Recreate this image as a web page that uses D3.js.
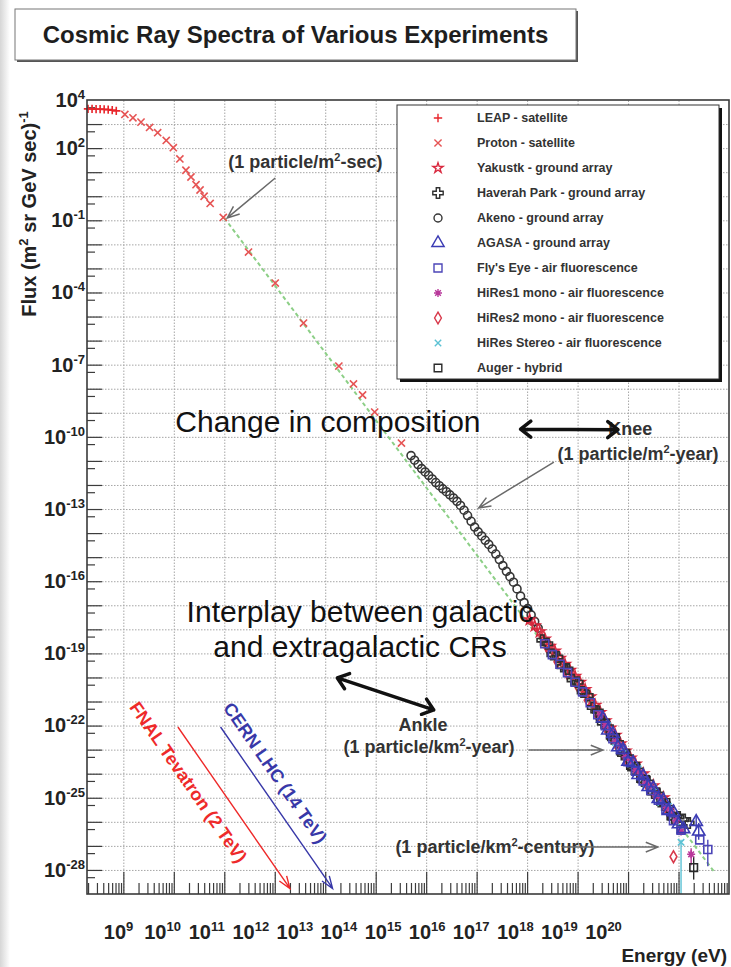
<!DOCTYPE html>
<html>
<head>
<meta charset="utf-8">
<title>Cosmic Ray Spectra of Various Experiments</title>
<script src="https://cdn.jsdelivr.net/npm/d3@7/dist/d3.min.js"></script>
<style>
  html, body { margin: 0; padding: 0; background: #fff; }
  svg { display: block; }
</style>
</head>
<body>
<svg id="chart" width="731" height="967"></svg>
<script>
// Energies are log10(E / eV); fluxes are log10(flux / (m^2 sr GeV sec)^-1).

const leapE = [8.30, 8.38, 8.46, 8.54, 8.62, 8.70, 8.78, 8.86];
const leapF = [3.63, 3.63, 3.62, 3.62, 3.61, 3.60, 3.58, 3.55];

const protonE = [9.03, 9.19, 9.35, 9.52, 9.68, 9.85, 9.99, 10.12, 10.24, 10.34, 10.44, 10.52, 10.60, 10.72, 10.98,
                 11.48, 12.01, 12.57, 13.27, 13.56, 13.74, 13.98, 14.51];
const protonF = [3.40, 3.26, 3.08, 2.86, 2.64, 2.32, 2.02, 1.55, 1.08, 0.80, 0.48, 0.26, 0.00, -0.30, -0.88,
                 -2.32, -3.61, -5.27, -7.06, -7.80, -8.26, -8.97, -10.26];

const akenoE = [14.70, 14.77, 14.84, 14.91, 14.98, 15.05, 15.12, 15.19, 15.26, 15.33, 15.40, 15.47, 15.54,
                15.61, 15.68, 15.75, 15.82, 15.89, 15.96, 16.03, 16.10, 16.17, 16.24, 16.31, 16.38, 16.45,
                16.52, 16.59, 16.66, 16.73, 16.80, 16.87, 16.94, 17.01, 17.08, 17.15, 17.22];
const akenoF = [-10.78, -10.97, -11.15, -11.32, -11.46, -11.60, -11.75, -11.90, -12.03, -12.16, -12.28, -12.41, -12.54,
                -12.68, -12.85, -13.05, -13.27, -13.51, -13.75, -13.95, -14.12, -14.30, -14.47, -14.66, -14.87, -15.10,
                -15.35, -15.59, -15.81, -16.04, -16.32, -16.62, -16.89, -17.14, -17.40, -17.67, -17.95];

const yakutskE = [17.05, 17.15, 17.25, 17.35, 17.45, 17.55, 17.65, 17.75, 17.85, 17.95, 18.05, 18.15, 18.25,
                  18.35, 18.45, 18.55, 18.65, 18.75, 18.85, 18.95, 19.05, 19.15, 19.30, 19.50, 19.70];
const yakutskF = [-17.60, -17.85, -18.10, -18.40, -18.70, -18.90, -19.20, -19.45, -19.70, -19.95, -20.20, -20.50, -20.80,
                  -21.15, -21.45, -21.80, -22.10, -22.40, -22.75, -23.05, -23.35, -23.60, -24.00, -24.50, -25.00];

const haverahE = [17.3, 17.4, 17.5, 17.6, 17.7, 17.8, 17.9, 18.0, 18.1, 18.2, 18.3, 18.4, 18.5, 18.6, 18.7,
                  18.8, 18.9, 19.0, 19.1, 19.2, 19.3, 19.4, 19.5, 19.6, 19.7, 19.8, 19.9, 20.0, 20.1, 20.2];
const haverahF = [-18.45, -18.60, -19.05, -19.15, -19.55, -19.65, -20.10, -20.20, -20.60, -20.75, -21.25, -21.40, -21.90, -22.05, -22.55,
                  -22.70, -23.20, -23.30, -23.80, -23.85, -24.30, -24.35, -24.80, -24.85, -25.30, -25.40, -25.85, -25.80, -25.90, -26.05];

const agasaE = [18.5, 18.6, 18.7, 18.8, 18.9, 19.0, 19.1, 19.2, 19.3, 19.4, 19.5, 19.6, 19.7, 19.8, 19.9, 20.0, 20.1, 20.35, 20.40];
const agasaF = [-21.70, -22.20, -22.35, -22.90, -23.00, -23.50, -23.55, -24.05, -24.10, -24.55, -24.60, -25.05, -25.10,
                -25.55, -25.60, -26.10, -26.30, -26.00, -26.40];

const flysEyeE = [17.35, 17.50, 17.65, 17.80, 17.95, 18.10, 18.25, 18.40, 18.55, 18.70, 18.85, 19.00, 19.15, 19.30,
                  19.45, 19.60, 19.75, 19.90, 20.05, 20.42, 20.58];
const flysEyeF = [-18.60, -19.05, -19.45, -19.80, -20.20, -20.60, -21.05, -21.55, -22.00, -22.55, -23.00, -23.50, -23.90, -24.30,
                  -24.70, -25.10, -25.50, -25.95, -26.35, -26.75, -27.15];

const hires1E = [18.45, 18.55, 18.65, 18.75, 18.85, 18.95, 19.05, 19.15, 19.25, 19.35, 19.45, 19.55, 19.65, 19.75,
                 19.85, 19.95, 20.05, 20.25];
const hires1F = [-21.55, -22.00, -22.20, -22.65, -22.85, -23.30, -23.45, -23.85, -24.00, -24.40, -24.50, -24.90, -25.00, -25.40,
                 -25.55, -25.95, -26.40, -27.35];

const hires2E = [17.3, 17.4, 17.5, 17.6, 17.7, 17.8, 17.9, 18.0, 18.1, 18.2, 18.3, 18.4, 18.5, 18.6, 18.7, 18.8,
                 18.9, 19.0, 19.2, 19.4, 19.6, 19.8, 19.9];
const hires2F = [-18.25, -18.75, -18.85, -19.35, -19.40, -19.85, -19.90, -20.35, -20.45, -20.95, -21.05, -21.60, -21.70, -22.25,
                 -22.40, -22.90, -23.00, -23.55, -23.90, -24.55, -24.90, -25.60, -27.45];

const stereoE = [18.60, 18.75, 18.90, 19.05, 19.20, 19.35, 19.50, 19.65, 19.80, 19.95, 20.05];
const stereoF = [-22.00, -22.70, -22.95, -23.60, -23.80, -24.45, -24.55, -25.20, -25.35, -26.00, -26.85];

const augerE = [18.45, 18.55, 18.65, 18.75, 18.85, 18.95, 19.05, 19.15, 19.25, 19.35, 19.45, 19.55, 19.65, 19.75,
                19.85, 19.95, 20.05, 20.30];
const augerF = [-21.70, -21.90, -22.40, -22.50, -23.05, -23.15, -23.65, -23.70, -24.20, -24.25, -24.70, -24.75, -25.15, -25.20,
                -25.75, -25.80, -26.30, -27.90];

// Error bars on the highest-energy points
const errSeries = ["AGASA", "AGASA", "Fly's Eye", "HiRes Stereo", "Auger", "HiRes1"];
const errE  = [20.35, 20.40, 20.58, 20.05, 20.30, 20.25];
const errLo = [-26.30, -26.75, -27.85, -29.00, -28.40, -27.80];
const errHi = [-25.75, -26.05, -26.75, -26.75, -27.45, -27.10];

// E^-2.8 guide line
const guideE = [11.0, 20.7];
const guideF = [-0.90, -28.06];

// Collider equivalent energies (lab frame, eV)
const colliderNames  = ["FNAL Tevatron (2 TeV)", "CERN LHC (14 TeV)"];
const colliderEnergy = [2e12, 1.4e13];

// Axis ticks
const xLabelExps = [9, 10, 11, 12, 13, 14, 15, 16, 17, 18, 19, 20];
const yLabelExps = [4, 2, -1, -4, -7, -10, -13, -16, -19, -22, -25, -28];

// ------------------------------------------------------------------
const FONT = '"Liberation Sans", Arial, Helvetica, sans-serif';
const W = 731, H = 967;
const frame = { left: 87, right: 729, top: 100, bottom: 894 };
const svg = d3.select('#chart').attr('font-family', FONT);

const x = d3.scaleLog().domain([10 ** 8.28, 1e21]).range([frame.left, frame.right]);
const y = d3.scaleLog().domain([1e-29, 1e4]).range([frame.bottom, frame.top]);
// the energy labels sit in an evenly spaced row under the axis
const xLabelPos = d3.scalePoint().domain(xLabelExps).range([118, 603]);
const px = e => x(10 ** e);
const py = f => y(10 ** f);

// text with superscripts: parts are strings or {sup: "..."}
function addParts(text, parts, supSize, rise) {
  let raised = false;
  parts.forEach(p => {
    const isSup = typeof p !== 'string';
    const t = text.append('tspan').text(isSup ? p.sup : p);
    if (isSup) { t.attr('font-size', supSize).attr('dy', -rise); raised = true; }
    else if (raised) { t.attr('dy', rise); raised = false; }
  });
}

// arrow path with open V heads
function arrowPath(x1, y1, x2, y2, head, spreadDeg, both) {
  const p = d3.path();
  p.moveTo(x1, y1); p.lineTo(x2, y2);
  const s = spreadDeg * Math.PI / 180;
  const addHead = (xa, ya, xb, yb) => {
    const a = Math.atan2(yb - ya, xb - xa);
    p.moveTo(xb - head * Math.cos(a - s), yb - head * Math.sin(a - s));
    p.lineTo(xb, yb);
    p.lineTo(xb - head * Math.cos(a + s), yb - head * Math.sin(a + s));
  };
  addHead(x1, y1, x2, y2);
  if (both) addHead(x2, y2, x1, y1);
  return p.toString();
}

// soft shading along the left edge of the page
const defs = svg.append('defs');
const edge = defs.append('linearGradient').attr('id', 'edgeShade').attr('x1', 0).attr('x2', 1).attr('y1', 0).attr('y2', 0);
edge.append('stop').attr('offset', 0).attr('stop-color', '#d6d6d6');
edge.append('stop').attr('offset', 1).attr('stop-color', '#ffffff');
svg.append('rect').attr('x', 0).attr('y', 0).attr('width', 10).attr('height', H).attr('fill', 'url(#edgeShade)');

// title box
const tb = { x: 15, y: 9, w: 561, h: 51 };
svg.append('rect').attr('x', tb.x + 2).attr('y', tb.y + 2).attr('width', tb.w).attr('height', tb.h).attr('fill', '#555');
svg.append('rect').attr('x', tb.x).attr('y', tb.y).attr('width', tb.w).attr('height', tb.h)
  .attr('fill', '#fff').attr('stroke', '#777').attr('stroke-width', 1);
svg.append('text').attr('x', tb.x + tb.w / 2).attr('y', tb.y + tb.h / 2 + 8).attr('text-anchor', 'middle')
  .attr('font-size', 24).attr('font-weight', 'bold').attr('fill', '#1e1e1e')
  .text('Cosmic Ray Spectra of Various Experiments');

// gridlines
const xMajor = d3.range(9, 21).map(e => 10 ** e);
const yMajor = d3.range(-28, 4).map(e => 10 ** e);
const gridStyle = g => g.call(s => s.select('.domain').remove())
  .selectAll('line').attr('stroke', '#a6a6a6').attr('stroke-width', 1).attr('stroke-dasharray', '1.5,1.5');
svg.append('g').attr('transform', `translate(0,${frame.bottom})`)
  .call(d3.axisBottom(x).tickValues(xMajor).tickSize(-(frame.bottom - frame.top)).tickFormat(''))
  .call(gridStyle);
svg.append('g').attr('transform', `translate(${frame.left},0)`)
  .call(d3.axisLeft(y).tickValues(yMajor).tickSize(-(frame.right - frame.left)).tickFormat(''))
  .call(gridStyle);

// tick marks (drawn inward)
const xMinor = [];
for (let e = 8; e <= 20; e++) for (let k = 2; k <= 9; k++) {
  const v = k * 10 ** e;
  if (v > x.domain()[0] && v < x.domain()[1]) xMinor.push(v);
}
const yMinor = d3.range(-29, 4).map(e => 5 * 10 ** e);
const tickStyle = g => g.call(s => s.select('.domain').remove())
  .selectAll('line').attr('stroke', '#3c3c3c').attr('stroke-width', 1.2);
svg.append('g').attr('transform', `translate(0,${frame.bottom})`)
  .call(d3.axisBottom(x).tickValues(xMajor).tickSize(-22).tickFormat('')).call(tickStyle);
svg.append('g').attr('transform', `translate(0,${frame.bottom})`)
  .call(d3.axisBottom(x).tickValues(xMinor).tickSize(-11).tickFormat('')).call(tickStyle);
svg.append('g').attr('transform', `translate(${frame.left},0)`)
  .call(d3.axisLeft(y).tickValues(yMajor).tickSize(-15).tickFormat('')).call(tickStyle);
svg.append('g').attr('transform', `translate(${frame.left},0)`)
  .call(d3.axisLeft(y).tickValues(yMinor).tickSize(-8).tickFormat('')).call(tickStyle);

// tick labels: 10 with superscript exponent
const powerLabels = expOf => g => {
  g.select('.domain').remove();
  g.attr('font-family', FONT).attr('font-size', 20).attr('font-weight', 'bold');
  g.selectAll('.tick text').attr('fill', '#222').each(function (d) {
    const t = d3.select(this);
    t.text(null);
    addParts(t, ['10', { sup: String(expOf(d)) }], 13, 8);
  });
};
svg.append('g').attr('transform', `translate(0,${frame.bottom})`)
  .call(d3.axisBottom(xLabelPos).tickSize(0).tickPadding(31))
  .call(powerLabels(d => d));
svg.append('g').attr('transform', `translate(${frame.left - 1},0)`)
  .call(d3.axisLeft(y).tickValues(yLabelExps.map(e => 10 ** e)).tickSize(0).tickPadding(1))
  .call(powerLabels(d => Math.round(Math.log10(d))));

// axis titles
svg.append('text').attr('x', 727).attr('y', 962).attr('text-anchor', 'end')
  .attr('font-size', 19).attr('font-weight', 'bold').attr('fill', '#222').text('Energy (eV)');
const yTitle = svg.append('text').attr('transform', 'translate(36,214) rotate(-90)').attr('text-anchor', 'middle')
  .attr('font-size', 20).attr('font-weight', 'bold').attr('fill', '#222');
addParts(yTitle, ['Flux (m', { sup: '2' }, ' sr GeV sec)', { sup: '-1' }], 13, 8);

// E^-2.8 guide line
svg.append('path')
  .attr('d', d3.line().x(i => px(guideE[i])).y(i => py(guideF[i]))(d3.range(guideE.length)))
  .attr('fill', 'none').attr('stroke', '#8ccf86').attr('stroke-width', 2).attr('stroke-dasharray', '4,3');

// marker shapes
const plusSym = { draw(c, s) { const r = Math.sqrt(s) / 2; c.moveTo(-r, 0); c.lineTo(r, 0); c.moveTo(0, -r); c.lineTo(0, r); } };
const timesSym = { draw(c, s) { const r = Math.sqrt(s) / 2 * 0.8; c.moveTo(-r, -r); c.lineTo(r, r); c.moveTo(-r, r); c.lineTo(r, -r); } };
const asteriskSym = { draw(c, s) {
  const r = Math.sqrt(s) / 2, q = r * 0.7071;
  c.moveTo(-r, 0); c.lineTo(r, 0); c.moveTo(0, -r); c.lineTo(0, r);
  c.moveTo(-q, -q); c.lineTo(q, q); c.moveTo(-q, q); c.lineTo(q, -q);
} };

const series = {
  "LEAP":         { label: 'LEAP - satellite',                 E: leapE,    F: leapF,    type: plusSym,            size: 70, color: '#e8252b' },
  "Proton":       { label: 'Proton - satellite',               E: protonE,  F: protonF,  type: timesSym,           size: 80, color: '#e65454' },
  "Yakutsk":      { label: 'Yakustk - ground array',           E: yakutskE, F: yakutskF, type: d3.symbolStar,      size: 32, color: '#d9283e' },
  "Haverah Park": { label: 'Haverah Park - ground array',      E: haverahE, F: haverahF, type: d3.symbolCross,     size: 60, color: '#303030' },
  "Akeno":        { label: 'Akeno - ground array',             E: akenoE,   F: akenoF,   type: d3.symbolCircle,    size: 50, color: '#363636' },
  "AGASA":        { label: 'AGASA - ground array',             E: agasaE,   F: agasaF,   type: d3.symbolTriangle,  size: 66, color: '#3b3bb4' },
  "Fly's Eye":    { label: "Fly's Eye - air fluorescence",     E: flysEyeE, F: flysEyeF, type: d3.symbolSquare,    size: 64, color: '#4c46b8' },
  "HiRes1":       { label: 'HiRes1 mono - air fluorescence',   E: hires1E,  F: hires1F,  type: asteriskSym,        size: 64, color: '#b8389a' },
  "HiRes2":       { label: 'HiRes2 mono - air fluorescence',   E: hires2E,  F: hires2F,  type: d3.symbolDiamond,   size: 40, color: '#d8384a' },
  "HiRes Stereo": { label: 'HiRes Stereo - air fluorescence',  E: stereoE,  F: stereoF,  type: timesSym,           size: 64, color: '#5cc2d4' },
  "Auger":        { label: 'Auger - hybrid',                   E: augerE,   F: augerF,   type: d3.symbolSquare,    size: 58, color: '#2a2a2a' }
};
const legendOrder = ["LEAP", "Proton", "Yakutsk", "Haverah Park", "Akeno", "AGASA", "Fly's Eye", "HiRes1", "HiRes2", "HiRes Stereo", "Auger"];
const drawOrder   = ["LEAP", "Proton", "Akeno", "Yakutsk", "HiRes2", "Haverah Park", "Auger", "HiRes Stereo", "HiRes1", "Fly's Eye", "AGASA"];

// error bars
const errG = svg.append('g');
errSeries.forEach((name, i) => {
  errG.append('line')
    .attr('x1', px(errE[i])).attr('x2', px(errE[i]))
    .attr('y1', py(Math.max(errLo[i], -29))).attr('y2', py(errHi[i]))
    .attr('stroke', series[name].color).attr('stroke-width', 1.4);
});

// data points
const dataG = svg.append('g');
drawOrder.forEach(name => {
  const s = series[name];
  const sym = d3.symbol().type(s.type).size(s.size);
  dataG.append('g').selectAll('path').data(d3.range(s.E.length)).join('path')
    .attr('transform', i => `translate(${px(s.E[i])},${py(s.F[i])})`)
    .attr('d', sym)
    .attr('fill', 'none').attr('stroke', s.color).attr('stroke-width', 1.6);
});

// plot frame
svg.append('rect').attr('x', frame.left).attr('y', frame.top)
  .attr('width', frame.right - frame.left).attr('height', frame.bottom - frame.top)
  .attr('fill', 'none').attr('stroke', '#3a3a3a').attr('stroke-width', 1.6);

// collider energies
const colliderColor = ['#ee2a2a', '#3838a8'];
const colliderTop = [-22.06, -22.06];
const colliderTip = -28.77;
const colliderSpan = 2.22; // decades of energy covered by each arrow
const colliderLabelAt = [[10.29, -24.35], [12.01, -23.97]];
colliderEnergy.forEach((en, i) => {
  const eTip = Math.log10(en);
  const x1 = px(eTip - colliderSpan), y1 = py(colliderTop[i]);
  const x2 = px(eTip), y2 = py(colliderTip);
  svg.append('path').attr('d', arrowPath(x1, y1, x2, y2, 13, 20, false))
    .attr('fill', 'none').attr('stroke', colliderColor[i]).attr('stroke-width', 1.4);
  const ang = Math.atan2(y2 - y1, x2 - x1) * 180 / Math.PI;
  const [le, lf] = colliderLabelAt[i];
  svg.append('text')
    .attr('transform', `translate(${px(le)},${py(lf)}) rotate(${ang})`)
    .attr('text-anchor', 'middle').attr('dy', '0.35em')
    .attr('font-size', 18).attr('font-weight', 'bold').attr('fill', colliderColor[i])
    .text(colliderNames[i]);
});

// large annotations
const bigText = (e, f, str, anchor) => svg.append('text').attr('x', px(e)).attr('y', py(f))
  .attr('text-anchor', anchor).attr('font-size', 30).attr('fill', '#111').text(str);
bigText(10.03, -9.80, 'Change in composition', 'start');
bigText(13.69, -17.70, 'Interplay between galactic', 'middle');
bigText(13.69, -19.15, 'and extragalactic CRs', 'middle');

// small bold annotations
const notes = [
  { parts: ['(1 particle/m', { sup: '2' }, '-sec)'], e: 11.08, f: 1.17 },
  { parts: ['Knee'], e: 18.61, f: -9.92 },
  { parts: ['(1 particle/m', { sup: '2' }, '-year)'], e: 17.60, f: -10.96 },
  { parts: ['Ankle'], e: 14.45, f: -22.23 },
  { parts: ['(1 particle/km', { sup: '2' }, '-year)'], e: 13.36, f: -23.14 },
  { parts: ['(1 particle/km', { sup: '2' }, '-century)'], e: 14.39, f: -27.30 }
];
notes.forEach(n => {
  const t = svg.append('text').attr('x', px(n.e)).attr('y', py(n.f))
    .attr('font-size', 18).attr('font-weight', 'bold').attr('fill', '#333');
  addParts(t, n.parts, 11, 7);
});

// thin pointer arrows [fromE, fromF, tipE, tipF]
const pointers = [
  [12.01, 0.76, 11.06, -0.90],
  [17.53, -11.05, 16.04, -12.96],
  [17.03, -23.02, 18.50, -23.02],
  [17.70, -27.05, 19.59, -27.05]
];
pointers.forEach(([e1, f1, e2, f2]) => {
  svg.append('path').attr('d', arrowPath(px(e1), py(f1), px(e2), py(f2), 13, 22, false))
    .attr('fill', 'none').attr('stroke', '#6a6a6a').attr('stroke-width', 1.5);
});

// thick double-headed arrows
const spans = [
  [16.87, -9.68, 18.80, -9.70],
  [13.24, -20.02, 15.15, -21.35]
];
spans.forEach(([e1, f1, e2, f2]) => {
  svg.append('path').attr('d', arrowPath(px(e1), py(f1), px(e2), py(f2), 13, 38, true))
    .attr('fill', 'none').attr('stroke', '#111').attr('stroke-width', 3.5)
    .attr('stroke-linecap', 'round').attr('stroke-linejoin', 'round');
});

// legend
const lg = { x: 397, y: 105, w: 322, h: 274, row: 25, first: 13, symX: 41, textX: 80 };
svg.append('rect').attr('x', lg.x + 3).attr('y', lg.y + 3).attr('width', lg.w).attr('height', lg.h).attr('fill', '#111');
svg.append('rect').attr('x', lg.x).attr('y', lg.y).attr('width', lg.w).attr('height', lg.h)
  .attr('fill', '#fff').attr('stroke', '#333').attr('stroke-width', 1);
const rows = svg.append('g').selectAll('g').data(legendOrder).join('g')
  .attr('transform', (d, i) => `translate(${lg.x},${lg.y + lg.first + i * lg.row})`);
rows.append('path')
  .attr('transform', `translate(${lg.symX},0)`)
  .attr('d', d => d3.symbol().type(series[d].type).size(series[d].size)())
  .attr('fill', 'none').attr('stroke', d => series[d].color).attr('stroke-width', 1.4);
rows.append('text').attr('x', lg.textX).attr('dy', '0.35em')
  .attr('font-size', 12.5).attr('font-weight', 'bold').attr('fill', '#333')
  .text(d => series[d].label);
</script>
</body>
</html>
